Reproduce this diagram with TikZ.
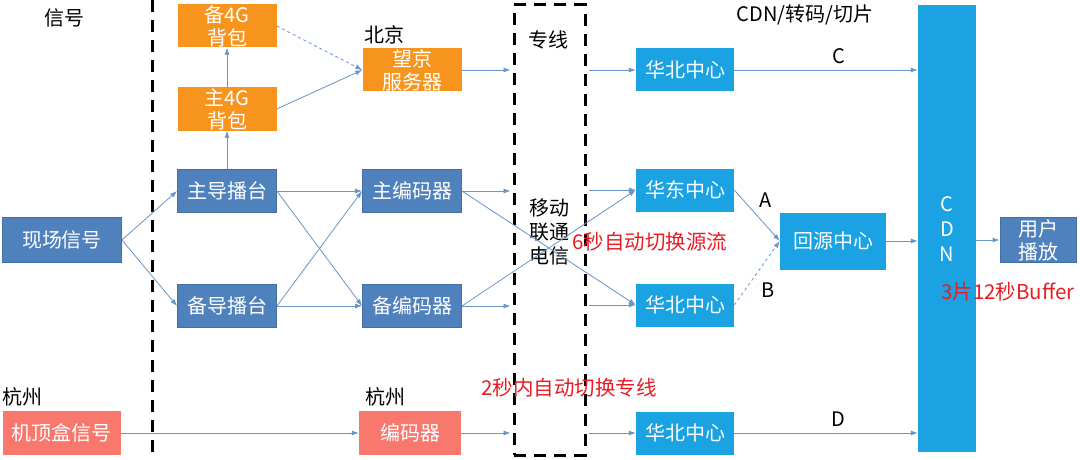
\documentclass[tikz,border=0pt]{standalone}
\usepackage{fontspec}
\setmainfont{Noto Sans CJK SC}
\usepackage{xcolor}
\usetikzlibrary{arrows.meta,positioning}

\definecolor{steel}{RGB}{79,129,189}
\definecolor{steeldk}{RGB}{65,113,164}
\definecolor{bag}{RGB}{247,148,30}
\definecolor{sky}{RGB}{27,162,226}
\definecolor{salmon}{RGB}{248,120,110}
\definecolor{linkc}{RGB}{104,148,200}
\definecolor{note}{RGB}{232,28,36}

\begin{document}
\begin{tikzpicture}[x=1pt,y=-1pt,
  box/.style={inner sep=0pt,text=white,font=\fontsize{20}{23}\selectfont,
    align=center,minimum width=99pt,minimum height=43pt},
  stl/.style={box,fill=steel,draw=steeldk,line width=0.8pt},
  org/.style={box,fill=bag},
  ctr/.style={box,fill=sky},
  rec/.style={box,fill=salmon},
  lbl/.style={inner sep=0pt,font=\fontsize{20}{23}\selectfont},
  red/.style={lbl,text=note,font=\fontsize{20.5}{23}\selectfont},
  link/.style={-{Latex[length=7pt,width=5pt]},linkc,line width=0.8pt},
  bigdash/.style={black,line width=3pt,dash pattern=on 12pt off 8pt}
]
\useasboundingbox (0,0) rectangle (1080,460);
% left zone
\node[lbl] (sig) at (65,18) {信号};
\node[stl,minimum width=119pt,minimum height=45pt] (xc) at (62,240) {现场信号};
\node[lbl] (hz1) at (22,397) {杭州};
\node[rec,minimum width=118pt,minimum height=44pt] (jd) at (62,433) {机顶盒信号};
\draw[bigdash] (152,0) -- (152,460);
% directors and backpacks
\node[org] (b4g) at (227,26) {备4G\\背包};
\node[org] (z4g) at (227,109) {主4G\\背包};
\node[stl] (zd) at (227,191) {主导播台};
\node[stl] (bd) at (227,306) {备导播台};
% encoders
\node[lbl] (bj) at (384,35) {北京};
\node[org] (wj) at (412,70) {望京\\服务器};
\node[stl] (zb) at (412,191) {主编码器};
\node[stl] (bb) at (412,306) {备编码器};
\node[lbl] (hz2) at (385,397) {杭州};
\node[rec,minimum width=102pt,minimum height=44pt] (bm) at (410,433) {编码器};
% lines box
\node[draw=black,line width=3pt,dash pattern=on 12pt off 8pt,
      minimum width=71pt,minimum height=450pt,inner sep=0pt] (lines) at (549.5,230) {};
\node[lbl] (zx) at (548,40) {专线};
\node[lbl,align=center,font=\fontsize{20}{24}\selectfont] (isp) at (549,232) {移动\\联通\\电信};
% centres
\node[lbl] (cdnt) at (805,15) {CDN/转码/切片};
\node[ctr,minimum width=98pt] (hb1) at (685,70) {华北中心};
\node[ctr,minimum width=98pt] (hd) at (685,190) {华东中心};
\node[ctr,minimum width=98pt] (hb2) at (685,305) {华北中心};
\node[ctr,minimum width=98pt] (hb3) at (685,433) {华北中心};
\node[ctr,minimum width=106pt,minimum height=57pt] (hy) at (833,241) {回源中心};
\node[ctr,minimum width=58pt,minimum height=447pt] (cdn) at (947,228.5) {};
\node[lbl,text=white,align=center,font=\fontsize{20}{25}\selectfont] (cdnl) at (947,229) {C\\D\\N};
\node[stl,minimum width=76pt,minimum height=45pt] (yh) at (1038,240) {用户\\播放};
% notes
\node[red] (n6) at (650,242) {6秒自动切换源流};
\node[red] (n2) at (569,388) {2秒内自动切换专线};
\node[red] (n3) at (1008,292) {3片12秒Buffer};
\node[lbl] (la) at (766,200) {A};
\node[lbl] (lb) at (768,290) {B};

% connectors
\draw[link] (xc.east) -- (zd.west);
\draw[link] (xc.east) -- (bd.west);
\draw[link] (zd) -- (z4g);
\draw[link] (z4g) -- (b4g);
\draw[link] (z4g.east) -- (wj.west);
\draw[link,dashed] (b4g.east) -- (wj.west);
\foreach \s in {zd,bd}
  \foreach \t in {zb,bb}
    \draw[link] (\s.east) -- (\t.west);
\draw[link] (jd) -- (bm);
\foreach \s in {wj,zb,bb,bm}
  \draw[link,shorten >=2pt] (\s.east) -- (lines.west |- \s);
\draw[link] (zb.east) -- (hb2.west);
\draw[link] (bb.east) -- (hd.west);
\foreach \t in {hb1,hd,hb2,hb3}
  \draw[link,shorten <=2pt] (lines.east |- \t) -- (\t.west);
\draw[link] (hb1.east) -- (cdn.west |- hb1) node[pos=0.57,above=6pt,lbl,black] (lc) {C};
\draw[link] (hb3.east) -- (cdn.west |- hb3) node[pos=0.57,above=6pt,lbl,black] (ld) {D};
\draw[link] (hd.east) -- (hy.west);
\draw[link,dashed] (hb2.east) -- (hy.west);
\draw[link] (hy.east) -- (cdn.west |- hy);
\draw[link] (cdn.east |- yh) -- (yh.west);
\end{tikzpicture}
\end{document}
